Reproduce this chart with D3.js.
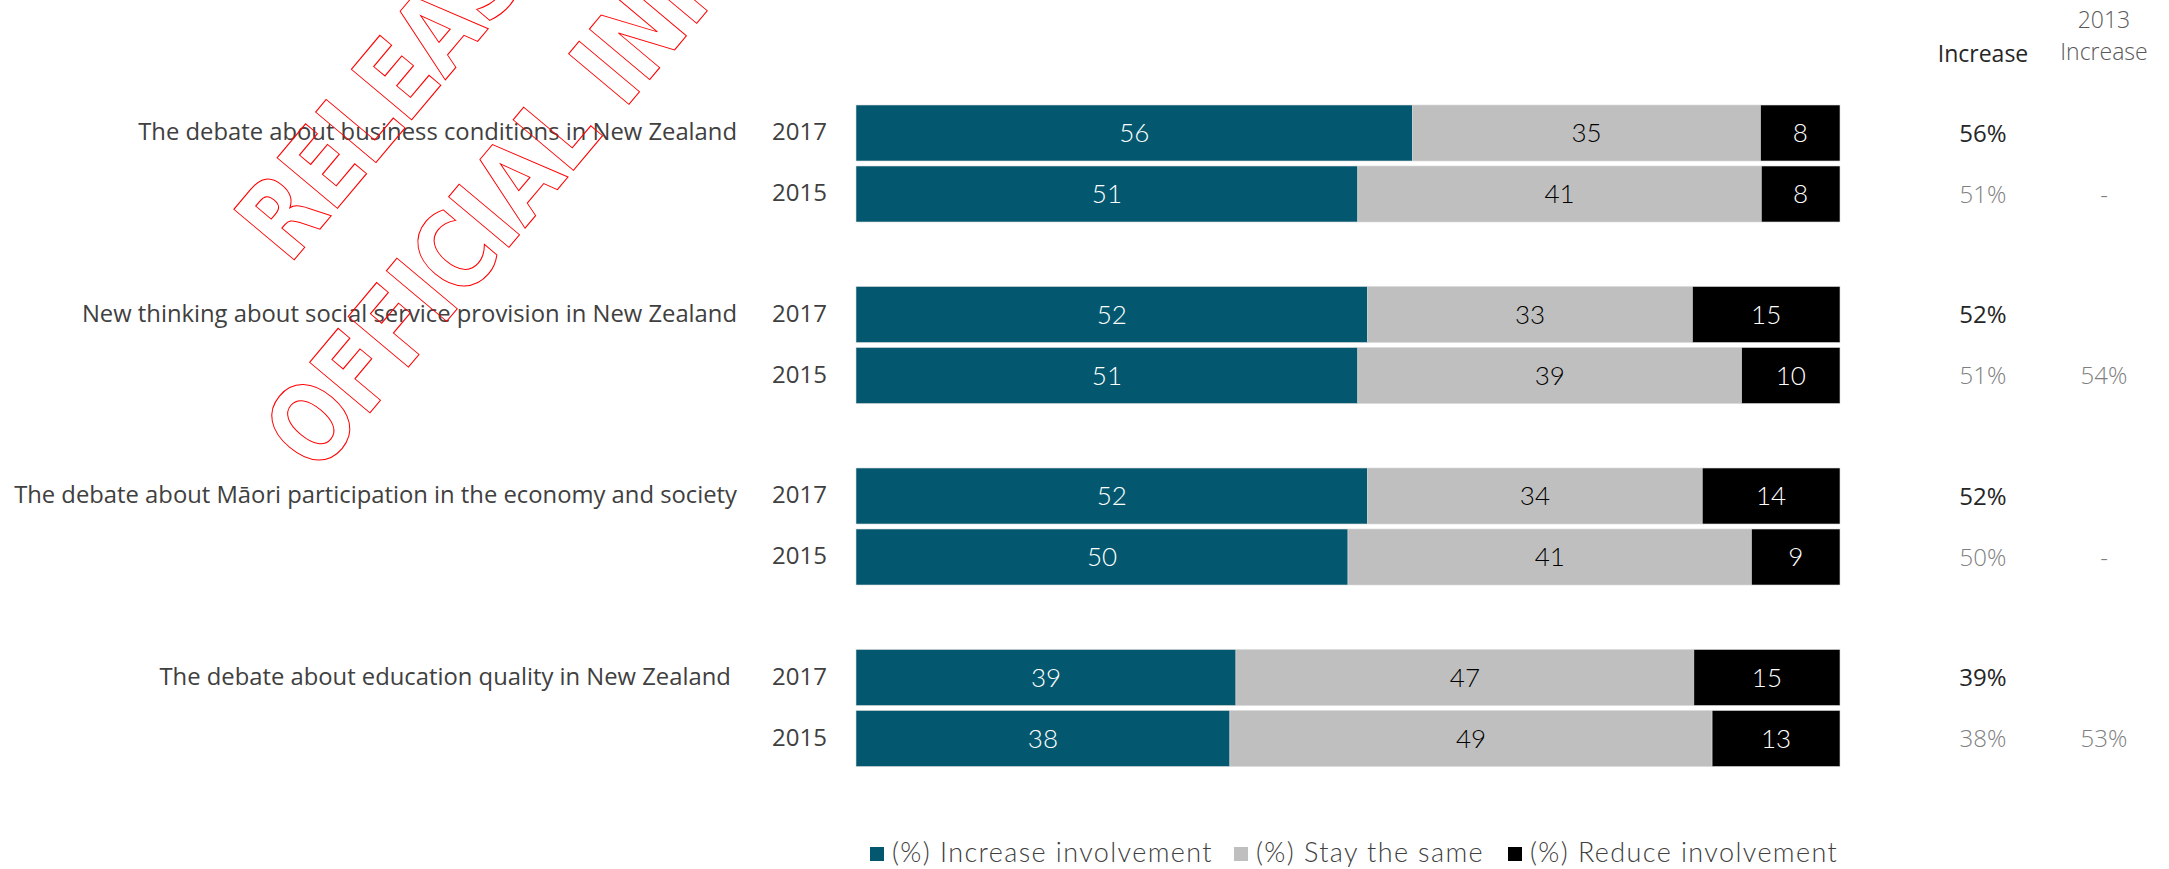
<!DOCTYPE html>
<html>
<head>
<meta charset="utf-8">
<script src="https://cdn.jsdelivr.net/npm/d3@7"></script>
<style>
  body { margin: 0; background: #fff; }
  svg { display: block; }
</style>
</head>
<body>
<div id="chart"></div>
<script>
// Width and height
var w = 2169, h = 869;

// Data
var topics = [
  "The debate about business conditions in New Zealand",
  "New thinking about social service provision in New Zealand",
  "The debate about Māori participation in the economy and society",
  "The debate about education quality in New Zealand "
];
var years = ["2017", "2015"];
var seriesNames = ["(%) Increase involvement", "(%) Stay the same", "(%) Reduce involvement"];
var seriesColors = ["#03586f", "#bfbfbf", "#000000"];
var labelColors = ["#ffffff", "#000000", "#ffffff"];

var increase2017 = [56, 52, 52, 39];
var stay2017     = [35, 33, 34, 47];
var reduce2017   = [8, 15, 14, 15];
var increase2015 = [51, 51, 50, 38];
var stay2015     = [41, 39, 41, 49];
var reduce2015   = [8, 10, 9, 13];
var increase2013 = ["-", "54%", "-", "53%"];

// Build rows: one per topic and year
var rows = [];
topics.forEach(function(t, i) {
  rows.push({topic: t, year: "2017", values: [increase2017[i], stay2017[i], reduce2017[i]], prev: null});
  rows.push({topic: t, year: "2015", values: [increase2015[i], stay2015[i], reduce2015[i]], prev: increase2013[i]});
});

var svg = d3.select("#chart").append("svg")
  .attr("width", w).attr("height", h);

// Scales
var yGroup = d3.scaleBand().domain(topics).range([105, 831]);
var yYear = d3.scaleBand().domain(years).range([0, 117]).paddingInner(5 / 61);
var x = d3.scaleLinear().domain([0, 100]).range([856, 1840]);

function rowY(d) { return yGroup(d.topic) + yYear(d.year); }
var bh = yYear.bandwidth();

// Segments (each bar normalised to its own total)
var segs = [];
rows.forEach(function(r) {
  var total = d3.sum(r.values), acc = 0;
  r.values.forEach(function(v, k) {
    segs.push({row: r, k: k, v: v, x0: acc / total * 100, x1: (acc + v) / total * 100});
    acc += v;
  });
});

var bars = svg.append("g");
bars.selectAll("rect")
  .data(segs).enter().append("rect")
  .attr("x", function(d) { return x(d.x0); })
  .attr("y", function(d) { return rowY(d.row); })
  .attr("width", function(d) { return x(d.x1) - x(d.x0); })
  .attr("height", bh)
  .attr("fill", function(d) { return seriesColors[d.k]; })
  .attr("stroke", "#d9d9d9").attr("stroke-width", 0.6);

bars.selectAll("text")
  .data(segs).enter().append("text")
  .attr("x", function(d) { return (x(d.x0) + x(d.x1)) / 2; })
  .attr("y", function(d) { return rowY(d.row) + bh / 2; })
  .attr("dy", "0.36em")
  .attr("text-anchor", "middle")
  .attr("font-family", "Lato, sans-serif").attr("font-weight", 300)
  .attr("font-size", 26)
  .attr("fill", function(d) { return labelColors[d.k]; })
  .text(function(d) { return d.v; });

// Topic labels
svg.append("g").selectAll("text")
  .data(topics).enter().append("text")
  .attr("x", 737)
  .attr("y", function(d) { return yGroup(d) + yYear("2017") + bh / 2; })
  .attr("dy", "0.3em")
  .attr("text-anchor", "end")
  .style("white-space", "pre")
  .attr("font-family", "'Open Sans', sans-serif")
  .attr("font-size", 23.8)
  .attr("fill", "#404040")
  .text(function(d) { return d; });

// Year labels
svg.append("g").selectAll("text")
  .data(rows).enter().append("text")
  .attr("x", 772)
  .attr("y", function(d) { return rowY(d) + bh / 2; })
  .attr("dy", "0.3em")
  .attr("font-family", "'Open Sans', sans-serif")
  .attr("font-size", 24)
  .attr("fill", "#404040")
  .text(function(d) { return d.year; });

// Right-hand columns
var colInc = 1983, col13 = 2104;
svg.append("text").attr("x", colInc).attr("y", 62).attr("text-anchor", "middle")
  .attr("font-family", "'Open Sans', sans-serif").attr("font-size", 23).attr("fill", "#262626")
  .text("Increase");
svg.append("text").attr("x", col13).attr("y", 28).attr("text-anchor", "middle")
  .attr("font-family", "'Open Sans', sans-serif").attr("font-weight", 300)
  .attr("font-size", 23).attr("fill", "#595959")
  .text("2013");
svg.append("text").attr("x", col13).attr("y", 60).attr("text-anchor", "middle")
  .attr("font-family", "'Open Sans', sans-serif").attr("font-weight", 300)
  .attr("font-size", 23).attr("fill", "#595959")
  .text("Increase");

svg.append("g").selectAll("text")
  .data(rows).enter().append("text")
  .attr("x", colInc)
  .attr("y", function(d) { return rowY(d) + bh / 2; })
  .attr("dy", "0.36em")
  .attr("text-anchor", "middle")
  .attr("font-family", "'Open Sans', sans-serif")
  .attr("font-weight", function(d) { return d.year === "2017" ? 400 : 300; })
  .attr("font-size", 24)
  .attr("fill", function(d) { return d.year === "2017" ? "#262626" : "#7f7f7f"; })
  .text(function(d) { return d.values[0] + "%"; });

svg.append("g").selectAll("text")
  .data(rows.filter(function(d) { return d.prev !== null; })).enter().append("text")
  .attr("x", col13)
  .attr("y", function(d) { return rowY(d) + bh / 2; })
  .attr("dy", "0.36em")
  .attr("text-anchor", "middle")
  .attr("font-family", "'Open Sans', sans-serif").attr("font-weight", 300)
  .attr("font-size", 24)
  .attr("fill", "#7f7f7f")
  .text(function(d) { return d.prev; });

// Legend
var legendX = [870, 1234, 1508];
var legend = svg.append("g").selectAll("g")
  .data(seriesNames).enter().append("g")
  .attr("transform", function(d, i) { return "translate(" + legendX[i] + ",853)"; });
legend.append("rect")
  .attr("x", 0).attr("y", -6).attr("width", 14).attr("height", 14)
  .attr("fill", function(d, i) { return seriesColors[i]; });
legend.append("text")
  .attr("x", 22).attr("dy", "0.33em")
  .attr("font-family", "Lato, sans-serif").attr("font-weight", 300)
  .attr("font-size", 27).attr("letter-spacing", 1.4).attr("fill", "#404040")
  .text(function(d) { return d; });

// Watermark
var mark = svg.append("g")
  .attr("font-family", "'DejaVu Sans', sans-serif").attr("font-weight", "bold")
  .attr("font-size", 108).attr("fill", "none")
  .attr("stroke", "#ff0000").attr("stroke-width", 1.1);
mark.append("text").attr("transform", "translate(289,266) rotate(-50) scale(0.81,1)").text("RELEASED UNDER THE");
mark.append("text").attr("transform", "translate(317,476) rotate(-50) scale(0.81,1)").text("OFFICIAL INFORMATION ACT");
</script>
</body>
</html>
